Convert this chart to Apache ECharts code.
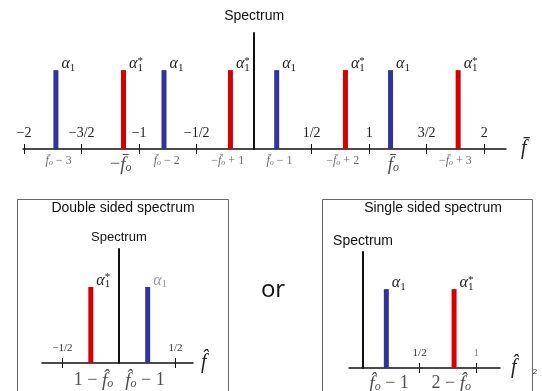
<!DOCTYPE html>
<html>
<head>
<meta charset="utf-8">
<script src="https://cdn.jsdelivr.net/npm/echarts@6/dist/echarts.min.js"></script>
<style>html,body{margin:0;padding:0;background:#fff}#c{width:542px;height:391px}</style>
</head>
<body>
<div id="c"></div>
<script>
// ---------- data ----------
// Top panel (normalized frequency f̄)
const topTicks = [-2, -1.5, -1, -0.5, 0.5, 1, 1.5, 2];
const topTickLabels = ['−2', '−3/2', '−1', '−1/2', '1/2', '1', '3/2', '2'];
const topBlueX = [-1.70, -0.76, 0.22, 1.21];
const topRedX = [-1.16, -0.23, 0.77, 1.75];
const topBlueH = [0.68, 0.68, 0.68, 0.68];
const topRedH = [0.68, 0.68, 0.68, 0.68];
const topBlueNames = ['f̄o − 3', 'f̄o − 2', 'f̄o − 1', 'f̄o'];
const topRedNames = ['−f̄o', '−f̄o + 1', '−f̄o + 2', '−f̄o + 3'];
const topBlueBig = [false, false, false, true];
const topRedBig = [true, false, false, false];

// Double sided panel
const dsTicks = [-0.5, 0.5];
const dsTickLabels = ['−1/2', '1/2'];
const dsRedX = [-0.224];
const dsRedH = [0.667];
const dsBlueX = [0.23];
const dsBlueH = [0.667];
const dsNames = ['1 − f̂o', 'f̂o − 1'];

// Single sided panel
const ssTicks = [0.5, 1];
const ssTickLabels = ['1/2', '1'];
const ssBlueX = [0.23];
const ssBlueH = [0.68];
const ssRedX = [0.78];
const ssRedH = [0.68];
const ssNames = ['f̂o − 1', '2 − f̂o'];

// ---------- styles ----------
const serif = '"Liberation Serif", "DejaVu Serif", serif';
const sans = '"Liberation Sans", Arial, sans-serif';
const BLUE = '#32329c';
const RED = '#d60000';
const INK = '#111';

const alphaRich = {
  a: { fontFamily: serif, fontStyle: 'italic', fontSize: 16, color: '#222' },
  s: { fontFamily: serif, fontSize: 11, color: '#222', padding: [7, 0, 0, 0] },
  st: { fontFamily: serif, fontSize: 11, color: '#222', padding: [0, 0, 7, 0], width: 0 },
  ag: { fontFamily: serif, fontStyle: 'italic', fontSize: 16, color: '#999' },
  sg: { fontFamily: serif, fontSize: 11, color: '#999', padding: [7, 0, 0, 0] }
};
const ALPHA = '{a|α}{s|1}';
const ALPHA_STAR = '{a|α}{st|*}{s|1}';
const ALPHA_GRAY = '{ag|α}{sg|1}';

function toRich(name, big) {
  // split "f̄o" / "f̂o" into f-with-accent and subscript o
  const m = name.match(/^(.*?)(f[\u0304\u0302])o(.*)$/);
  const p = big ? 'b' : 's';
  return '{t' + p + '|' + m[1] + '}{f' + p + '|' + m[2] + '}{o' + p + '|o}{t' + p + '|' + m[3] + '}';
}
const nameRich = {
  ts: { fontFamily: serif, fontSize: 12, color: '#444' },
  fs: { fontFamily: serif, fontStyle: 'italic', fontSize: 12, color: '#444' },
  os: { fontFamily: serif, fontStyle: 'italic', fontSize: 8, color: '#444', padding: [4, 0, 0, 0] },
  tb: { fontFamily: serif, fontSize: 18, color: '#222' },
  fb: { fontFamily: serif, fontStyle: 'italic', fontSize: 19, color: '#222' },
  ob: { fontFamily: serif, fontStyle: 'italic', fontSize: 12, color: '#222', padding: [6, 0, 0, 0] }
};

function barSeries(xi, yi, xs, hs, color, lab) {
  return {
    type: 'bar', xAxisIndex: xi, yAxisIndex: yi, barWidth: 5, silent: true,
    itemStyle: { color: color },
    data: xs.map((x, i) => [x, hs[i]]),
    label: {
      show: true, position: ['100%', 0], offset: [3, -6], align: 'left', verticalAlign: 'middle',
      formatter: () => lab, rich: alphaRich
    },
    z: 5
  };
}
function nameSeries(xi, yi, xs, names, bigs, dist) {
  return {
    type: 'scatter', xAxisIndex: xi, yAxisIndex: yi, symbolSize: 0, silent: true,
    data: xs.map((x, i) => ({ value: [x, 0], nm: names[i], big: bigs[i] })),
    label: {
      show: true, position: 'bottom', distance: dist,
      formatter: (p) => toRich(p.data.nm, p.data.big), rich: nameRich
    }
  };
}

function tickAxes(grid, min, max, ticks, labels, labelSize, labelColor, name, nameGap) {
  const inner = {
    type: 'value', gridIndex: grid, min: min, max: max, position: 'bottom',
    axisLine: { show: true, onZero: false, lineStyle: { color: INK, width: 1.5 } },
    axisTick: { show: true, inside: true, length: 5, customValues: ticks, lineStyle: { color: INK } },
    axisLabel: {
      show: true, inside: true, margin: 9, customValues: ticks,
      formatter: (v) => { const i = ticks.findIndex(t => Math.abs(t - v) < 1e-6); return i >= 0 ? labels[i] : ''; },
      fontFamily: serif, fontSize: labelSize, color: labelColor
    },
    splitLine: { show: false }
  };
  const outer = {
    type: 'value', gridIndex: grid, min: min, max: max, position: 'bottom',
    axisLine: { show: false, onZero: false },
    axisTick: { show: true, inside: false, length: 5, customValues: ticks, lineStyle: { color: INK } },
    axisLabel: { show: false },
    splitLine: { show: false },
    name: name, nameLocation: 'end', nameGap: nameGap,
    nameTextStyle: { fontFamily: serif, fontStyle: 'italic', fontSize: 20, color: '#222', verticalAlign: 'middle' }
  };
  return [inner, outer];
}
function yAx(grid, name, nameGap, size) {
  return {
    type: 'value', gridIndex: grid, min: 0, max: 1,
    axisLine: { show: true, onZero: true, lineStyle: { color: INK, width: 2 } },
    axisTick: { show: false }, axisLabel: { show: false }, splitLine: { show: false },
    name: name, nameLocation: 'end', nameGap: nameGap,
    nameTextStyle: { fontFamily: sans, fontSize: size, color: '#111', align: 'center' }
  };
}

const xAxes = [].concat(
  tickAxes(0, -2.01, 2.19, topTicks, topTickLabels, 14, '#222', 'f̄', 15),
  tickAxes(1, -0.68, 0.655, dsTicks, dsTickLabels, 11, '#333', 'f̂', 8),
  tickAxes(2, -0.124, 1.21, ssTicks, ssTickLabels, 11, '#333', 'f̂', 11)
);
// grey "1" label in single-sided panel
xAxes[4].axisLabel.formatter = (v) => {
  const i = ssTicks.findIndex(t => Math.abs(t - v) < 1e-6);
  if (i < 0) return '';
  return i === 1 ? '{g|' + ssTickLabels[i] + '}' : ssTickLabels[i];
};
xAxes[4].axisLabel.rich = { g: { fontFamily: serif, fontSize: 11, color: '#888' } };

const option = {
  animation: false,
  backgroundColor: '#fff',
  grid: [
    { left: 23, top: 33, width: 483, height: 116 },
    { left: 42, top: 249, width: 151, height: 114 },
    { left: 349, top: 252, width: 151, height: 116 }
  ],
  xAxis: xAxes,
  yAxis: [yAx(0, 'Spectrum', 10, 14), yAx(1, 'Spectrum', 5, 13), yAx(2, 'Spectrum', 4, 14)],
  series: [
    barSeries(0, 0, topBlueX, topBlueH, BLUE, ALPHA),
    barSeries(0, 0, topRedX, topRedH, RED, ALPHA_STAR),
    nameSeries(0, 0, topBlueX, topBlueNames, topBlueBig, 6),
    nameSeries(0, 0, topRedX, topRedNames, topRedBig, 6),

    barSeries(2, 1, dsRedX, dsRedH, RED, ALPHA_STAR),
    barSeries(2, 1, dsBlueX, dsBlueH, BLUE, ALPHA_GRAY),
    nameSeries(2, 1, dsRedX.concat(dsBlueX), dsNames, [true, true], 8),

    barSeries(4, 2, ssBlueX, ssBlueH, BLUE, ALPHA),
    barSeries(4, 2, ssRedX, ssRedH, RED, ALPHA_STAR),
    nameSeries(4, 2, ssBlueX.concat(ssRedX), ssNames, [true, true], 6)
  ],
  graphic: [
    { type: 'rect', shape: { x: 17.5, y: 199.5, width: 211, height: 200 }, style: { fill: 'none', stroke: '#666', lineWidth: 1 }, silent: true },
    { type: 'rect', shape: { x: 322.5, y: 199.5, width: 210, height: 200 }, style: { fill: 'none', stroke: '#666', lineWidth: 1 }, silent: true },
    { type: 'text', x: 123, y: 208, style: { text: 'Double sided spectrum', font: '14px ' + sans, fill: '#111', align: 'center', verticalAlign: 'middle' }, silent: true },
    { type: 'text', x: 433, y: 208, style: { text: 'Single sided spectrum', font: '14px ' + sans, fill: '#111', align: 'center', verticalAlign: 'middle' }, silent: true },
    { type: 'text', x: 273, y: 290, style: { text: 'or', font: '24px "Open Sans", "Liberation Sans", sans-serif', fill: '#111', align: 'center', verticalAlign: 'middle' }, silent: true },
    { type: 'text', x: 535, y: 372, style: { text: '2', font: '8px ' + sans, fill: '#333', align: 'center', verticalAlign: 'middle' }, silent: true }
  ]
};
const chart = echarts.init(document.getElementById('c'));
chart.setOption(option);
</script>
</body>
</html>
